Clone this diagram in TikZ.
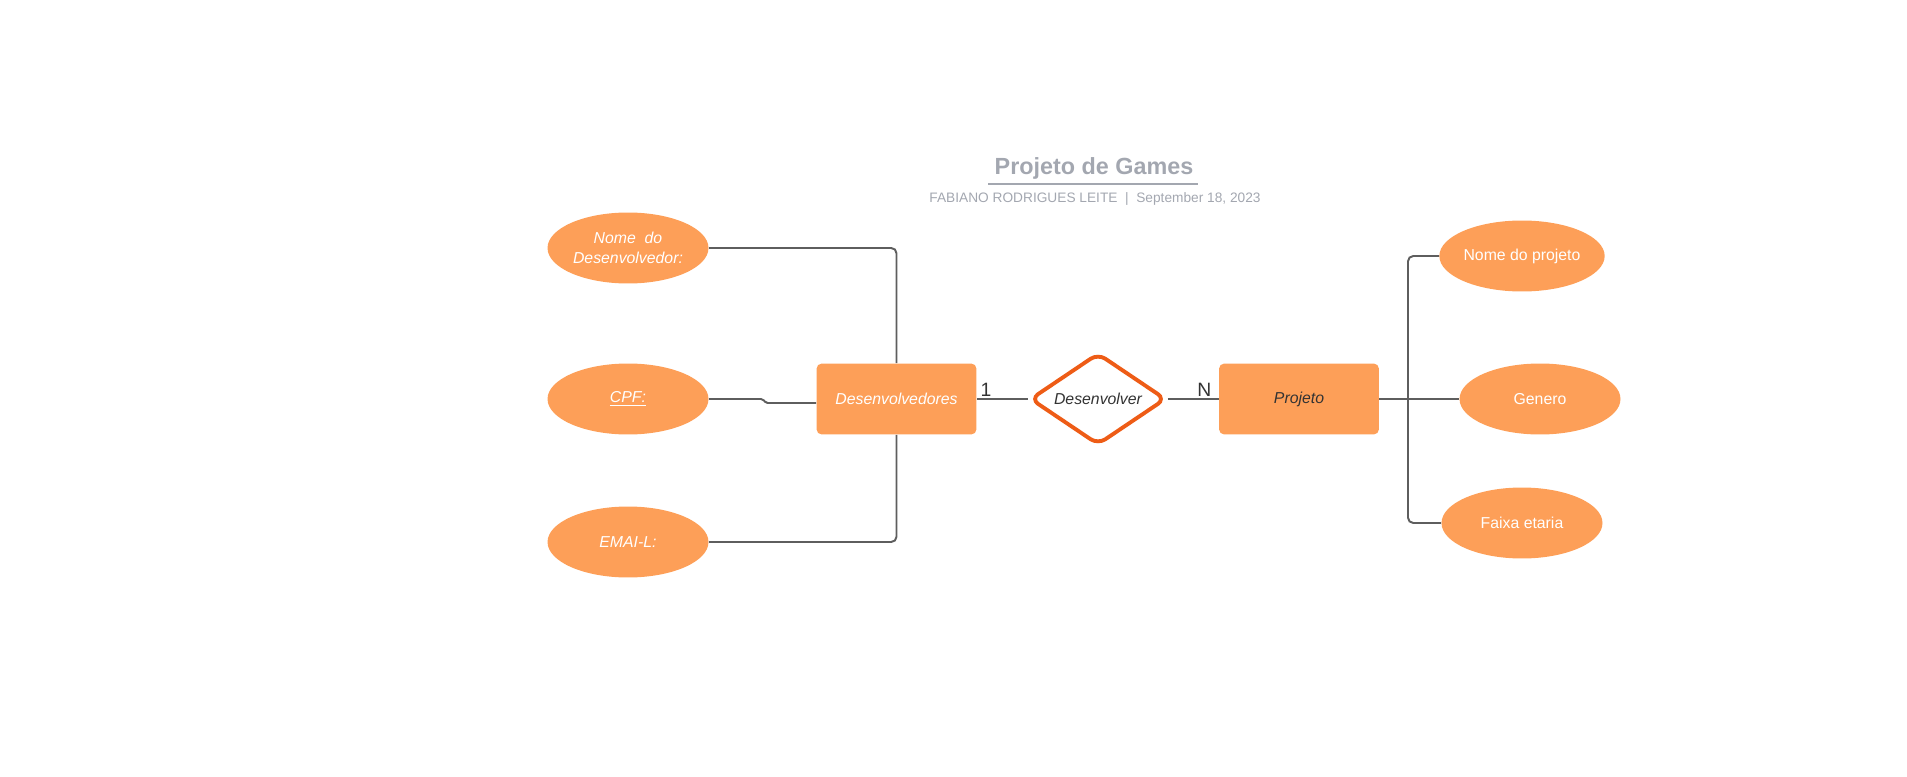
\documentclass[tikz,border=0pt]{standalone}
\usepackage{fontspec}
\setmainfont{Liberation Sans}
\usepackage{xcolor}
\usetikzlibrary{positioning, calc, shapes.geometric}
\definecolor{entOrange}{RGB}{253, 159, 88}
\definecolor{relOrange}{RGB}{238, 92, 22}
\definecolor{lineGray}{RGB}{94, 94, 94}
\definecolor{titleGray}{RGB}{163, 167, 176}
\definecolor{textDark}{RGB}{51, 51, 51}

\tikzset{
  entity/.style={rectangle, rounded corners=3pt, fill=entOrange, minimum width=3.2cm, minimum height=1.42cm, inner sep=0pt, font=\fontsize{9}{11}\selectfont\itshape},
  attrib/.style={ellipse, fill=entOrange, text=white, minimum width=3.22cm, minimum height=1.42cm, inner sep=0pt, align=center, font=\fontsize{9}{11}\selectfont},
  relation/.style={diamond, draw=relOrange, line width=2.2pt, rounded corners=5pt, fill=white, aspect=1.5, minimum width=2.72cm, minimum height=1.84cm, inner sep=0pt, text=textDark, font=\fontsize{9}{11}\selectfont\itshape},
  link/.style={draw=lineGray, line width=1.1pt, rounded corners=3pt},
  card/.style={text=textDark, font=\fontsize{11}{13}\selectfont, inner sep=1pt}
}

\begin{document}
\begin{tikzpicture}[x=0.02cm, y=-0.02cm]
        \useasboundingbox (0,0) rectangle (1907,777);

        % title
        \node[text=titleGray, font=\fontsize{13.3}{16}\selectfont\bfseries] (title) at (1094, 168) {Projeto de Games};
        \draw[titleGray, line width=1.4pt] (988, 184) -- (1198, 184);
        \node[text=titleGray, font=\fontsize{7.8}{10}\selectfont] (sub) at (1095, 199) {FABIANO RODRIGUES LEITE \ | \ September 18, 2023};

        % Desenvolvedores
        \node[entity, text=white] (devs) at (896.5, 399) {Desenvolvedores};
        \node[attrib, font=\fontsize{9}{11}\selectfont\itshape] (attrNome) at (628, 248) {Nome\ \ do\\Desenvolvedor:};
        \node[attrib, font=\fontsize{9}{11}\selectfont\itshape] (attrCPF) at (628, 399) {\underline{CPF:}};
        \node[attrib, font=\fontsize{9}{11}\selectfont\itshape] (attrEmail) at (628, 542) {EMAI-L:};

        \draw[link] (attrNome.east) -| (devs.north);
        \draw[link, rounded corners=1pt] (attrCPF.east) -- ++(54, 0) -- ++(3, 4) -- ([yshift=-0.08cm]devs.west);
        \draw[link] (attrEmail.east) -| (devs.south);

        % Desenvolver
        \node[relation] (desenv) at (1098, 399) {Desenvolver};
        \draw[link] (devs.east) -- node[card, above, pos=0.18] {1} (desenv.west);

        % Projeto
        \node[entity, text=textDark] (projeto) at (1299, 399) {Projeto};
        \draw[link] (desenv.east) -- node[card, above, pos=0.72] {N} (projeto.west);

        \node[attrib] (attrNomeProj) at (1522, 256) {Nome do projeto};
        \node[attrib] (attrGenero) at (1540, 399) {Genero};
        \node[attrib] (attrFaixa) at (1522, 523) {Faixa etaria};

        \draw[link] (projeto.east) -- (attrGenero.west);
        \draw[link] (attrNomeProj.west) -- ++(-31, 0) |- (attrFaixa.west);
      \end{tikzpicture}
\end{document}
